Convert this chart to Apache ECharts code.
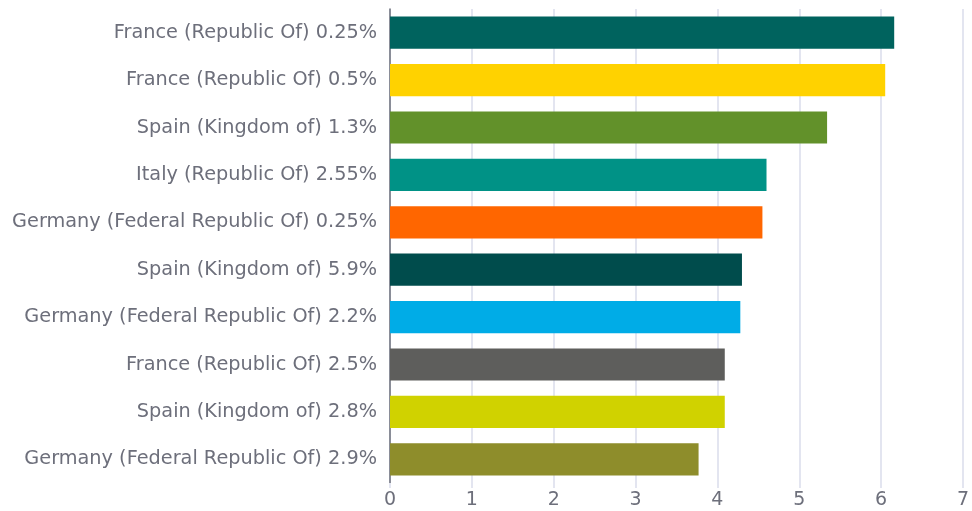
<!DOCTYPE html>
<html>
<head>
<meta charset="utf-8">
<script src="https://cdn.jsdelivr.net/npm/echarts@6/dist/echarts.min.js"></script>
<style>
  html, body { margin: 0; padding: 0; background: #ffffff; }
  #chart { width: 972px; height: 511px; }
</style>
</head>
<body>
<div id="chart"></div>
<script>
// Bond issues, top to bottom
const categories = [
  'France (Republic Of) 0.25%',
  'France (Republic Of) 0.5%',
  'Spain (Kingdom of) 1.3%',
  'Italy (Republic Of) 2.55%',
  'Germany (Federal Republic Of) 0.25%',
  'Spain (Kingdom of) 5.9%',
  'Germany (Federal Republic Of) 2.2%',
  'France (Republic Of) 2.5%',
  'Spain (Kingdom of) 2.8%',
  'Germany (Federal Republic Of) 2.9%'
];
const values = [6.16, 6.05, 5.34, 4.60, 4.55, 4.30, 4.28, 4.09, 4.09, 3.77];
const barColors = ['#00635e', '#ffd200', '#62912a', '#009286', '#ff6600', '#004c4c', '#00ace7', '#5e5e5c', '#d0d200', '#8e8d2b'];
const xTicks = [0, 1, 2, 3, 4, 5, 6, 7];

const FONT = '"DejaVu Sans", sans-serif';

const chart = echarts.init(document.getElementById('chart'), null, { renderer: 'canvas' });
chart.setOption({
  animation: false,
  grid: { left: 390, right: 4, top: 9, bottom: 28, containLabel: false },
  xAxis: {
    type: 'value',
    min: xTicks[0],
    max: xTicks[xTicks.length - 1],
    interval: 1,
    axisLine: { show: false },
    axisTick: { show: true, length: 5, lineStyle: { color: '#e3e5f0', width: 2 } },
    splitLine: { show: true, lineStyle: { color: '#e3e5f0', width: 2 } },
    axisLabel: { color: '#6d6f7b', fontSize: 19, fontFamily: FONT, margin: 8 }
  },
  yAxis: {
    type: 'category',
    inverse: true,
    data: categories,
    axisLine: { show: true, lineStyle: { color: '#6d6f7b', width: 1.5 } },
    axisTick: { show: false },
    axisLabel: { color: '#6d6f7b', fontSize: 19.3, fontFamily: FONT, margin: 13 }
  },
  series: [{
    type: 'bar',
    barWidth: '68%',
    data: values.map((v, i) => ({ value: v, itemStyle: { color: barColors[i] } }))
  }]
});
</script>
</body>
</html>
